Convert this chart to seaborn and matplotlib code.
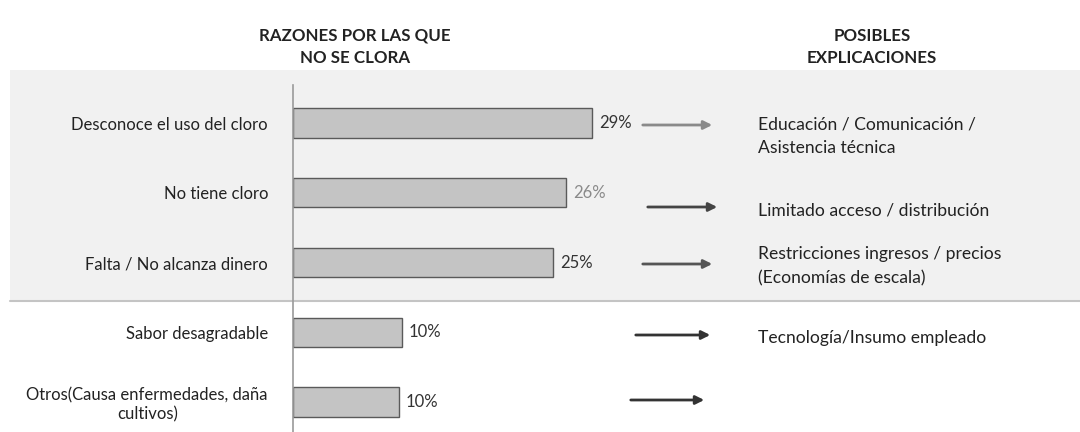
import matplotlib
matplotlib.use("Agg")
import matplotlib.pyplot as plt
import seaborn as sns
import pandas as pd
from matplotlib.patches import Rectangle, FancyArrowPatch
from matplotlib.lines import Line2D

categories = ["Desconoce el uso del cloro", "No tiene cloro", "Falta / No alcanza dinero",
              "Sabor desagradable", "Otros(Causa enfermedades, daña\ncultivos)"]
values = [28.9, 26.4, 25.1, 10.5, 10.2]
value_labels = ["29%", "26%", "25%", "10%", "10%"]
explanations = ["Educación / Comunicación /\nAsistencia técnica", "Limitado acceso / distribución",
                "Restricciones ingresos / precios\n(Economías de escala)", "Tecnología/Insumo empleado", ""]
header_left = "RAZONES POR LAS QUE\nNO SE CLORA"
header_right = "POSIBLES\nEXPLICACIONES"

sns.set_theme(style="white")
plt.rcParams['font.family'] = ['Lato', 'DejaVu Sans']

W, H = 1080, 432
fig = plt.figure(figsize=(W / 100, H / 100), dpi=100)
fig.patch.set_facecolor("white")

def fx(px):
    return px / W

def fy(py):
    return 1 - py / H

# shaded band
fig.patches.append(Rectangle((fx(10), fy(301)), fx(1070), (301 - 70) / H, transform=fig.transFigure,
                             facecolor="#f1f1f1", edgecolor="none", zorder=0))
fig.lines.append(Line2D([fx(10), 1], [fy(301), fy(301)], transform=fig.transFigure,
                        color="#c4c4c4", lw=1.5, zorder=1))

ax = fig.add_axes([fx(293), 0, 1 - fx(293), 1])
ax.set_zorder(3)
ax.set_facecolor("none")
df = pd.DataFrame({"cat": categories, "val": values})
sns.barplot(data=df, x="val", y="cat", orient="h", color="#c4c4c4", width=0.42,
            edgecolor="#5a5a5a", linewidth=1.0, ax=ax, saturation=1)

ppp = 10.35
ax.set_xlim(0, (W - 293) / ppp)
row0, step = 123, 69.75
ax.set_ylim((H - row0) / step, -row0 / step)

ax.set_xlabel("")
ax.set_ylabel("")
ax.set_xticks([])
for s in ["top", "right", "bottom"]:
    ax.spines[s].set_visible(False)
ax.spines["left"].set_color("#9a9a9a")
ax.spines["left"].set_linewidth(1.2)
ax.spines["left"].set_bounds((H - row0) / step, -0.55)
ax.tick_params(axis="y", length=0, pad=18, labelsize=12, labelcolor="#222222")
for lbl in ax.get_yticklabels():
    lbl.set_multialignment("center")
    lbl.set_linespacing(1.25)

label_colors = ["#333333", "#8a8a8a", "#333333", "#333333", "#333333"]
texts = ax.bar_label(ax.containers[0], labels=value_labels, padding=5, fontsize=12)
for t, c in zip(texts, label_colors):
    t.set_color(c)

# headers
fig.text(fx(355), fy(47), header_left, ha="center", va="center", fontsize=12.2,
         fontweight="bold", color="#222222", linespacing=1.5)
fig.text(fx(872), fy(47), header_right, ha="center", va="center", fontsize=12.2,
         fontweight="bold", color="#222222", linespacing=1.5)

# explanations
exp_y = [116, 202, 246, 330, 400]
for txt, y in zip(explanations, exp_y):
    if txt:
        fig.text(fx(758), fy(y), txt, ha="left", va="top", fontsize=12.6,
                 color="#222222", linespacing=1.6)

# arrows
arrow_pos = [(640, 715, 125), (645, 720, 207), (640, 715, 264), (633, 713, 335), (628, 707, 400)]
arrow_cols = ["#8a8a8a", "#444444", "#555555", "#333333", "#333333"]
for (x0, x1, y), c in zip(arrow_pos, arrow_cols):
    fig.patches.append(FancyArrowPatch((fx(x0), fy(y)), (fx(x1), fy(y)), transform=fig.transFigure,
                                       arrowstyle="-|>,head_length=5,head_width=2.5",
                                       color=c, lw=2, mutation_scale=1))

fig.savefig("out.png", dpi=100)
